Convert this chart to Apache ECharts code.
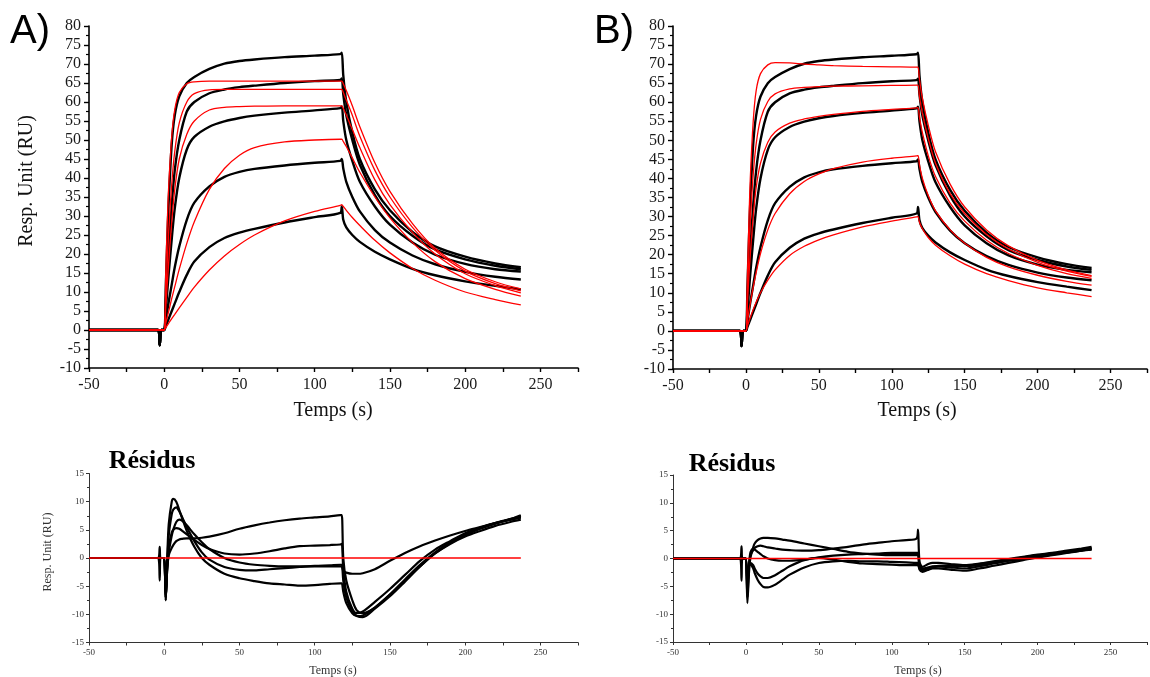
<!DOCTYPE html>
<html><head><meta charset="utf-8">
<script src="https://cdn.jsdelivr.net/npm/echarts@6/dist/echarts.min.js"></script>
<style>html,body{margin:0;padding:0;background:#fff}#c{width:1150px;height:677px}</style>
</head><body><div id="c"></div>
<script>
// ---- sensorgram sample times (s) ----
const tS = [-50,-40,-30,-20,-10,-4,-3,-2,0,1,2,3,5,7,10,15,20,30,40,50,60,80,100,117,118,119,121,125,130,140,150,165,180,200,220,237];
// ---- measured (black) curves, shared by panels A and B (RU) ----
const black1 = [0,0,0,0,0,0,-4,0,0,11,23,34,49,56.5,61.5,65,66.6,68.7,70.1,70.8,71.2,71.8,72.2,72.6,73,67,60,52,45,37,31.5,25.8,22,19.3,17.5,16.5];
const black2 = [0,0,0,0,0,0,-4,0,0,7,14,21,33,42,50,57.5,60,62.3,63.3,63.9,64.3,65,65.5,65.8,66.2,62,56.5,50,43.5,35.5,30,24.8,21.2,18.6,16.9,16];
const black3 = [0,0,0,0,0,0,-4,0,0,5,10,15,24,32,40,47.5,50.8,53.5,54.9,55.8,56.4,57.2,57.8,58.4,58.8,55,50,44.5,39,32.5,27.7,23,19.8,17.4,16,15.4];
const black4 = [0,0,0,0,0,0,-4,0,0,2.5,5,7.5,12,16.5,22,29,33.5,37.8,40.3,41.6,42.4,43.3,44,44.5,45,42.5,39,35,31.2,26.3,23,19.6,17.3,15.3,14,13.3];
const black5 = [0,0,0,0,0,0,-4,0,0,1,2,3,5,7,10,14.5,18,21.8,24.2,25.6,26.6,28.3,29.7,30.8,32.5,29,27,25,23.2,20.6,18.6,16.1,14.4,12.8,11.6,10.7];
// ---- fitted (red) curves, panel A ----
const fitA1 = [0,0,0,0,0,0,0,0,0,15,28,38,51,58,62.5,64.8,65.3,65.5,65.5,65.5,65.5,65.5,65.5,65.5,65.5,64.8,63,59,53.5,44,36.5,28,21.5,16,12.7,10.8];
const fitA2 = [0,0,0,0,0,0,0,0,0,9,18,26,38.5,47,54.5,60,62.2,63.2,63.3,63.3,63.3,63.3,63.3,63.3,63.3,62.5,60.5,56.5,51,42,35,27,21,15.5,12.2,10.3];
const fitA3 = [0,0,0,0,0,0,0,0,0,6,12,18,28.5,37,45,51.5,55,57.9,58.6,58.8,58.9,59,59,59,59,58.3,56.6,52.8,48,39.5,33,25.7,20,14.8,11.7,9.8];
const fitA4 = [0,0,0,0,0,0,0,0,0,1.7,3.4,5,8.3,11.4,16,22.8,28.5,37,42.5,46,48,49.5,50,50.2,50.2,49.6,48.3,45.3,41.5,35,29.5,23,18,13.5,10.7,8.9];
const fitA5 = [0,0,0,0,0,0,0,0,0,0.6,1.2,1.8,3,4.1,5.8,8.6,11.3,15.8,19.5,22.5,25,28.7,31.2,32.8,33,32.5,31.5,29.6,27.5,23.6,20.3,16.2,13.1,10,8,6.6];
// ---- fitted (red) curves, panel B ----
const fitB1 = [0,0,0,0,0,0,0,0,0,14,28,40,55,63,67.5,69.8,70.4,70.3,70,69.8,69.6,69.4,69.3,69.2,69.2,66,61,54,47,38.5,32.5,26.5,22.3,18.5,16,14.5];
const fitB2 = [0,0,0,0,0,0,0,0,0,10,20,29,41,49,55.5,60.2,62.2,63.5,63.9,64.1,64.2,64.3,64.4,64.5,64.5,61.5,57,50.5,44,36,30.8,25.3,21.5,18,15.7,14.3];
const fitB3 = [0,0,0,0,0,0,0,0,0,7,14,20,30,37.5,44,49.5,52.2,54.5,55.6,56.3,56.8,57.6,58.1,58.5,58.6,56,52,46,40.5,33.5,28.8,23.8,20.3,17.2,15,13.8];
const fitB4 = [0,0,0,0,0,0,0,0,0,2.5,5,7.3,11.5,15.3,20.3,26.5,30.8,36,39.2,41.2,42.6,44.3,45.3,45.9,46,43.5,40,35.5,31.5,26.5,23,19.3,16.8,14.6,13,12];
const fitB5 = [0,0,0,0,0,0,0,0,0,1.2,2.4,3.5,5.6,7.5,10,13.3,16,19.8,22.2,23.9,25.2,27.3,28.8,29.9,30,28.5,26.8,24.5,22.5,19.7,17.5,15,13.2,11.3,10,9];
// ---- residual sample times (s) ----
const tR = [-50,-40,-30,-20,-10,-4,-3,-2.5,-1,0,1,2,3,5,6,8,10,12,15,20,25,30,40,50,60,70,80,90,100,110,117,118,119,121,125,128,132,140,150,160,170,180,190,200,210,220,230,237];
// ---- residuals, panel A ----
const resA1 = [0,0,0,0,0,0,2,0,0,0,-7,-2,0.5,1.8,2.3,3,3.3,3.4,3.5,3.5,3.6,3.8,4.4,5.2,5.8,6.3,6.7,7,7.2,7.4,7.6,7.6,0,-4,-7.5,-9.3,-9.8,-8.8,-6.5,-3.8,-1.2,1,2.8,4.2,5.3,6.2,6.9,7.4];
const resA2 = [0,0,0,0,0,0,-4,0,0,0,-7,-1,2,4.5,5,5.3,5.2,4.8,4.2,3.2,2.3,1.6,0.8,0.6,0.8,1.2,1.7,2.1,2.2,2.3,2.4,2.5,-2,-6,-9,-9.8,-9.5,-7.8,-5.5,-3,-0.5,1.5,3,4.4,5.4,6.2,6.8,7.2];
const resA3 = [0,0,0,0,0,0,0,0,0,0,-7.5,-1,4,7.8,8.6,9,8.3,7.2,5.5,3,1,-0.3,-1.6,-2.1,-2.2,-2,-1.8,-1.6,-1.4,-1.3,-1.2,-1.2,-4,-7,-9.5,-10.3,-10.5,-9,-6.8,-4.2,-1.5,0.8,2.6,4,5.2,6.1,6.9,7.6];
const resA4 = [0,0,0,0,0,0,0,0,0,0,-7.5,0,6,10,10.5,10,8.5,7,4.8,2,0,-1.2,-2.8,-3.6,-4.1,-4.5,-4.7,-4.9,-4.8,-4.6,-4.5,-4.5,-6,-8,-9.8,-10.3,-10.2,-8.8,-6.5,-4,-1.5,0.8,2.5,3.8,4.8,5.7,6.4,6.8];
const resA5 = [0,0,0,0,0,0,0,0,0,0,-6,-2,1,4,5,6.4,6.8,6.6,5.8,4.2,2.8,1.6,0,-0.8,-1.2,-1.4,-1.5,-1.5,-1.5,-1.5,-1.5,-1.5,-2.3,-2.6,-2.8,-2.8,-2.7,-2,-0.5,0.9,2.1,3.1,4,4.8,5.5,6.2,6.8,7.2];
// ---- residuals, panel B ----
const resB1 = [0,0,0,0,0,0,2.2,0,0,0,-8,-3,0,2,2.7,3.3,3.6,3.7,3.7,3.6,3.4,3.2,2.7,2.2,1.7,1.2,0.9,0.7,0.6,0.6,0.6,0.6,-1.5,-2,-1.7,-1.5,-1.3,-1.3,-1.3,-1,-0.6,-0.2,0.2,0.6,0.9,1.2,1.5,1.7];
const resB2 = [0,0,0,0,0,0,-4,0,0,0,-6,-1.5,0.5,1.5,1.9,2.2,2.3,2.2,2,1.8,1.6,1.5,1.4,1.5,1.8,2.1,2.5,2.8,3.1,3.3,3.6,5.2,-0.5,-1.5,-1,-0.8,-0.8,-1,-1.2,-0.9,-0.5,-0.1,0.3,0.7,1,1.4,1.8,2.1];
const resB3 = [0,0,0,0,0,0,0,0,0,0,-7,-2,1,1.8,1.6,1.2,0.8,0.4,0,-0.3,-0.4,-0.4,-0.2,0.2,0.5,0.7,0.8,0.9,1,1,1,1,-1,-1.8,-1.6,-1.4,-1.4,-1.6,-1.8,-1.4,-0.9,-0.4,0,0.4,0.8,1.1,1.4,1.6];
const resB4 = [0,0,0,0,0,0,0,0,0,0,-5,-1.5,-0.8,-1.2,-1.8,-2.7,-3.2,-3.5,-3.5,-3,-2.2,-1.4,-0.3,0.1,-0.2,-0.6,-0.9,-1,-1.1,-1.2,-1.2,-1.2,-1.8,-2.2,-2,-1.8,-1.8,-2,-2.2,-1.8,-1.3,-0.8,-0.3,0.2,0.6,1,1.4,1.7];
const resB5 = [0,0,0,0,0,0,0,0,0,0,-4,-1.5,-1,-1.8,-2.6,-3.8,-4.6,-5.1,-5.2,-4.7,-3.8,-2.9,-1.6,-0.8,-0.5,-0.4,-0.5,-0.5,-0.6,-0.7,-0.8,-0.8,-2,-2.4,-2,-1.6,-1.4,-1.3,-1.4,-1.2,-0.8,-0.4,-0.1,0.3,0.7,1.1,1.5,1.9];
// zero reference of residual plots
const tZero = [-50, 237];
const zeroVals = [0, 0];
// axis tick labels
const xTickLabels = [-50, 0, 50, 100, 150, 200, 250];

const zip = (t, v) => t.map((x, i) => [x, v[i]]);
const SERIF = '"Liberation Serif","Times New Roman",serif';
const SANS = '"Liberation Sans",Arial,sans-serif';

function xAx(gi, big) {
  return {
    type: 'value', gridIndex: gi, min: -50, max: 275, interval: 25,
    axisLine: {show: true, onZero: false, lineStyle: {color: big ? '#000' : '#333', width: big ? 1.6 : 1}},
    axisTick: {show: true, inside: false, length: big ? 4 : 3, lineStyle: {color: big ? '#000' : '#333', width: big ? 1.4 : 1}},
    splitLine: {show: false},
    axisLabel: {
      show: true, fontFamily: SERIF, fontSize: big ? 16 : 9, color: big ? '#1a1a1a' : '#333', margin: big ? 9 : 6,
      formatter: v => (xTickLabels.indexOf(v) >= 0 ? String(v) : '')
    }
  };
}
function yAx(gi, big) {
  return big ? {
    type: 'value', gridIndex: gi, min: -10, max: 80, interval: 5,
    axisLine: {show: true, onZero: false, lineStyle: {color: '#000', width: 1.6}},
    axisTick: {show: true, length: 5, lineStyle: {color: '#000', width: 1.4}},
    minorTick: {show: true, splitNumber: 2, length: 3, lineStyle: {color: '#000', width: 1.2}},
    splitLine: {show: false}, minorSplitLine: {show: false},
    axisLabel: {fontFamily: SERIF, fontSize: 16, color: '#1a1a1a', margin: 8}
  } : {
    type: 'value', gridIndex: gi, min: -15, max: 15, interval: 5,
    axisLine: {show: true, onZero: false, lineStyle: {color: '#333', width: 1}},
    axisTick: {show: true, length: 3, lineStyle: {color: '#333', width: 1}},
    minorTick: {show: true, splitNumber: 2, length: 2, lineStyle: {color: '#333', width: 1}},
    splitLine: {show: false}, minorSplitLine: {show: false},
    axisLabel: {fontFamily: SERIF, fontSize: 9, color: '#333', margin: 5}
  };
}
function line(gi, t, v, color, w) {
  return {
    type: 'line', xAxisIndex: gi, yAxisIndex: gi, data: zip(t, v),
    showSymbol: false, symbol: 'none', smooth: 0.3,
    lineStyle: {color: color, width: w}, silent: true, animation: false
  };
}

const blacks = [black1, black2, black3, black4, black5];
const fitsA = [fitA1, fitA2, fitA3, fitA4, fitA5];
const fitsB = [fitB1, fitB2, fitB3, fitB4, fitB5];
const resA = [resA1, resA2, resA3, resA4, resA5];
const resB = [resB1, resB2, resB3, resB4, resB5];

const series = [];
blacks.forEach(b => series.push(line(0, tS, b, '#000', 2.4)));
fitsA.forEach(f => series.push(line(0, tS, f, '#ff0000', 1.3)));
blacks.forEach(b => series.push(line(1, tS, b, '#000', 2.4)));
fitsB.forEach(f => series.push(line(1, tS, f, '#ff0000', 1.3)));
resA.forEach(r => series.push(line(2, tR, r, '#000', 2.2)));
series.push(line(2, tZero, zeroVals, '#ff0000', 1.3));
resB.forEach(r => series.push(line(3, tR, r, '#000', 2.2)));
series.push(line(3, tZero, zeroVals, '#ff0000', 1.3));

const chart = echarts.init(document.getElementById('c'), null, {renderer: 'canvas'});
chart.setOption({
  animation: false,
  backgroundColor: '#fff',
  grid: [
    {left: 89, top: 26, width: 489, height: 342},
    {left: 673, top: 26, width: 487.5, height: 343},
    {left: 89, top: 473.5, width: 489, height: 169},
    {left: 673, top: 475, width: 487.5, height: 167}
  ],
  xAxis: [xAx(0, true), xAx(1, true), xAx(2, false), xAx(3, false)],
  yAxis: [yAx(0, true), yAx(1, true), yAx(2, false), yAx(3, false)],
  series: series,
  graphic: [
    {type: 'text', left: 10, top: 12, style: {text: 'A)', font: '40px ' + SANS, fill: '#000'}},
    {type: 'text', left: 594, top: 12, style: {text: 'B)', font: '40px ' + SANS, fill: '#000'}},
    {type: 'text', x: 27, y: 181, rotation: Math.PI / 2, style: {text: 'Resp. Unit (RU)', font: '20px ' + SERIF, fill: '#111', align: 'center', verticalAlign: 'middle'}},
    {type: 'text', x: 333, y: 411, style: {text: 'Temps (s)', font: '20px ' + SERIF, fill: '#111', align: 'center', verticalAlign: 'middle'}},
    {type: 'text', x: 917, y: 411, style: {text: 'Temps (s)', font: '20px ' + SERIF, fill: '#111', align: 'center', verticalAlign: 'middle'}},
    {type: 'text', x: 152, y: 461, style: {text: 'Résidus', font: 'bold 26px ' + SERIF, fill: '#000', align: 'center', verticalAlign: 'middle'}},
    {type: 'text', x: 732, y: 464, style: {text: 'Résidus', font: 'bold 26px ' + SERIF, fill: '#000', align: 'center', verticalAlign: 'middle'}},
    {type: 'text', x: 48, y: 552, rotation: Math.PI / 2, style: {text: 'Resp. Unit (RU)', font: '12px ' + SERIF, fill: '#333', align: 'center', verticalAlign: 'middle'}},
    {type: 'text', x: 333, y: 671, style: {text: 'Temps (s)', font: '12px ' + SERIF, fill: '#333', align: 'center', verticalAlign: 'middle'}},
    {type: 'text', x: 918, y: 671, style: {text: 'Temps (s)', font: '12px ' + SERIF, fill: '#333', align: 'center', verticalAlign: 'middle'}}
  ]
});
</script></body></html>
